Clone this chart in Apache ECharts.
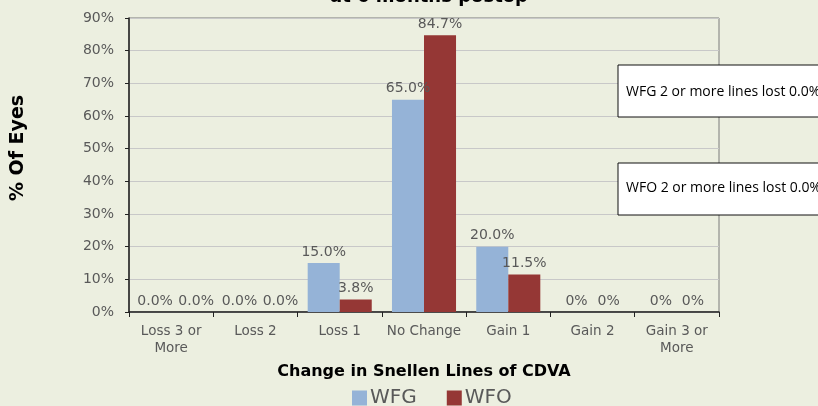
<!DOCTYPE html>
<html><head><meta charset="utf-8">
<script src="https://cdn.jsdelivr.net/npm/echarts@6/dist/echarts.min.js"></script>
<style>html,body{margin:0;padding:0;background:#ECEFE0;}#c{width:818px;height:406px;}</style>
</head><body><div id="c"></div>
<script>
const categories = ['Loss 3 or\nMore', 'Loss 2', 'Loss 1', 'No Change', 'Gain 1', 'Gain 2', 'Gain 3 or\nMore'];
const wfgValues = [0, 0, 15.0, 65.0, 20.0, 0, 0];
const wfoValues = [0, 0, 3.8, 84.7, 11.5, 0, 0];
const wfgLabels = ['0.0%', '0.0%', '15.0%', '65.0%', '20.0%', '0%', '0%'];
const wfoLabels = ['0.0%', '0.0%', '3.8%', '84.7%', '11.5%', '0%', '0%'];
const yTicks = [0, 10, 20, 30, 40, 50, 60, 70, 80, 90];
const noteTexts = ['WFG 2 or more lines lost 0.0%', 'WFO 2 or more lines lost 0.0%'];

const chart = echarts.init(document.getElementById('c'));
const labelFont = { color: '#595959', fontSize: 14, fontFamily: 'DejaVu Sans' };
// WFO zero labels in the first two categories are nudged right (as in the original) to avoid overlap
const wfoData = wfoValues.map((v, i) => (i < 2 ? { value: v, label: { offset: [9, 0] } } : v));
chart.setOption({
  backgroundColor: '#ECEFE0',
  animation: false,
  grid: { left: 129, right: 99, top: 18, bottom: 94, show: true, borderColor: '#7a7a7a', borderWidth: 1 },
  legend: {
    top: 388, left: 352, padding: 0, itemWidth: 15, itemHeight: 15, itemGap: 30,
    icon: 'rect',
    textStyle: { color: '#595959', fontSize: 20, fontFamily: 'DejaVu Sans', padding: [0, 0, 0, -2] },
    data: ['WFG', 'WFO']
  },
  xAxis: {
    type: 'category', data: categories,
    name: 'Change in Snellen Lines of CDVA', nameLocation: 'middle', nameGap: 52,
    nameTextStyle: { color: '#000', fontWeight: 'bold', fontSize: 16, fontFamily: 'DejaVu Sans' },
    axisLine: { lineStyle: { color: '#222', width: 1.5 } },
    axisTick: { show: true, length: 5, lineStyle: { color: '#222' } },
    axisLabel: { color: '#595959', fontSize: 13.5, fontFamily: 'DejaVu Sans', lineHeight: 17, margin: 11, interval: 0 }
  },
  yAxis: {
    type: 'value', min: 0, max: 90, interval: 10,
    axisLine: { show: true, lineStyle: { color: '#222', width: 1.5 } },
    axisTick: { show: true, length: 4, lineStyle: { color: '#222' } },
    splitLine: { lineStyle: { color: '#C8C8C8', width: 1 } },
    axisLabel: { color: '#595959', fontSize: 14, fontFamily: 'DejaVu Sans', margin: 15,
      formatter: v => yTicks.includes(v) ? v + '%' : '' }
  },
  series: [
    { name: 'WFG', type: 'bar', data: wfgValues, barGap: '0%', barCategoryGap: '24%',
      itemStyle: { color: '#95B3D7' },
      label: Object.assign({ show: true, position: 'top', distance: 4, formatter: p => wfgLabels[p.dataIndex] }, labelFont) },
    { name: 'WFO', type: 'bar', data: wfoData,
      itemStyle: { color: '#953735' },
      label: Object.assign({ show: true, position: 'top', distance: 4, formatter: p => wfoLabels[p.dataIndex] }, labelFont) }
  ],
  graphic: [
    { type: 'text', x: 429, y: -3, z: 100, style: { text: 'at 6 months postop', font: 'bold 18px "DejaVu Sans"', fill: '#000', textAlign: 'center', verticalAlign: 'middle' } },
    { type: 'text', x: 18, y: 148, rotation: Math.PI / 2, z: 100, style: { text: '% Of Eyes', font: 'bold 19px "DejaVu Sans"', fill: '#000', textAlign: 'center', verticalAlign: 'middle' } },
    { type: 'group', x: 618, y: 65, z: 100, children: [
      { type: 'rect', z: 100, shape: { x: 0, y: 0, width: 210, height: 52 }, style: { fill: '#fff', stroke: '#111', lineWidth: 1 } },
      { type: 'text', z: 101, x: 8, y: 27, style: { text: noteTexts[0], font: '14px "Open Sans"', fill: '#000', verticalAlign: 'middle' } }
    ]},
    { type: 'group', x: 618, y: 163, z: 100, children: [
      { type: 'rect', z: 100, shape: { x: 0, y: 0, width: 210, height: 52 }, style: { fill: '#fff', stroke: '#111', lineWidth: 1 } },
      { type: 'text', z: 101, x: 8, y: 25, style: { text: noteTexts[1], font: '14px "Open Sans"', fill: '#000', verticalAlign: 'middle' } }
    ]}
  ]
});
</script></body></html>
